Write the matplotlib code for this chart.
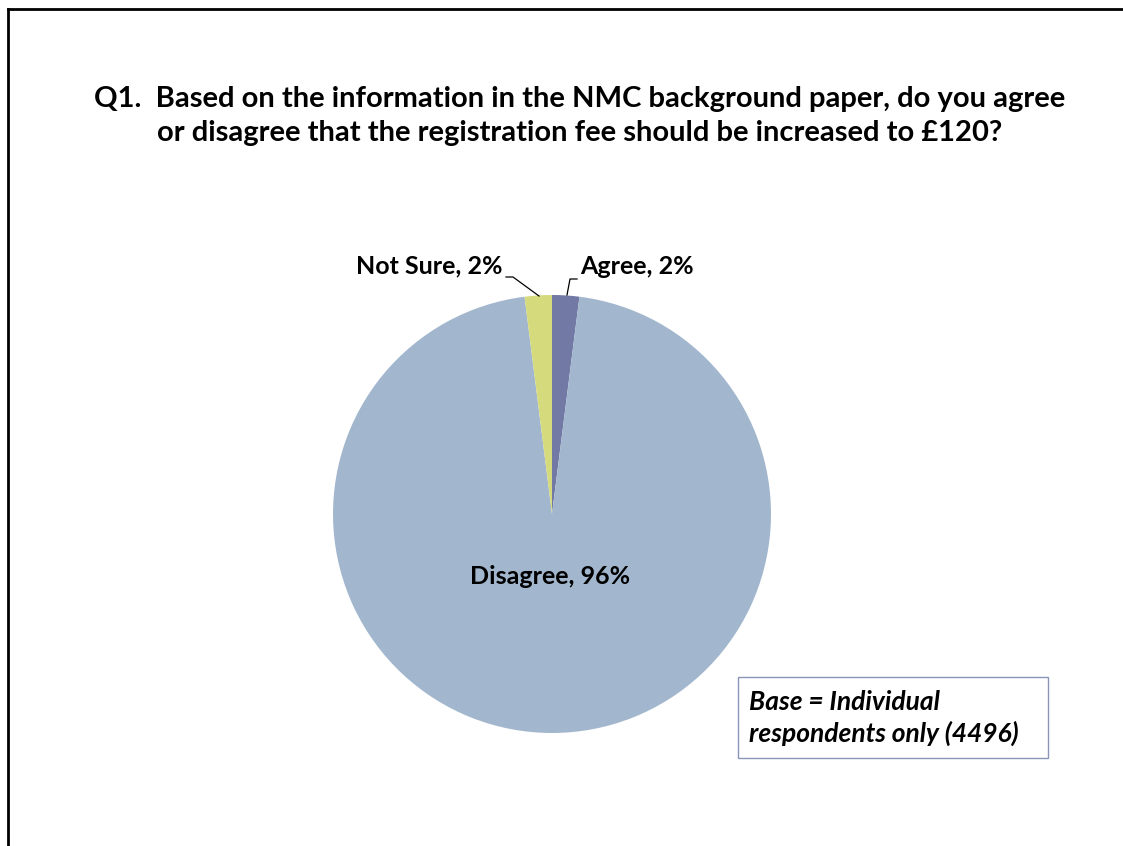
import matplotlib.pyplot as plt
from matplotlib.patches import Rectangle
from matplotlib.lines import Line2D

plt.rcParams['font.family'] = ['Lato', 'DejaVu Sans']

# Survey answers
labels = ["Agree", "Disagree", "Not Sure"]
shares = [2, 96, 2]
colors = ["#7279A5", "#A2B7CE", "#D5DA7C"]

title = ("Q1.  Based on the information in the NMC background paper, do you agree\n"
         "or disagree that the registration fee should be increased to £120?")
base_note = "Base = Individual\nrespondents only (4496)"

W, H = 1123, 846
fig = plt.figure(figsize=(W / 100, H / 100), dpi=100)

# frame lines along top and left edge
fig.add_artist(Line2D([8 / W, 1], [1 - 9 / H, 1 - 9 / H], color="black", lw=2,
                      transform=fig.transFigure))
fig.add_artist(Line2D([8 / W, 8 / W], [0, 1 - 9 / H], color="black", lw=2,
                      transform=fig.transFigure))

fig.text(580 / W, 1 - 116 / H, title, ha="center", va="center", fontsize=21,
         fontweight="bold", linespacing=1.38)

# pie
cx, cy, r = 552, 514, 219
ax = fig.add_axes([(cx - r) / W, (H - cy - r) / H, 2 * r / W, 2 * r / H])
wedges, _ = ax.pie(shares, colors=colors, startangle=90, counterclock=False,
                   radius=1, wedgeprops=dict(linewidth=0))
ax.set_xlim(-1, 1)
ax.set_ylim(-1, 1)
ax.axis("off")

def to_ax(px, py):
    return (px - cx) / r, (cy - py) / r

# slice labels
x, y = to_ax(550, 577)
ax.text(x, y, f"{labels[1]}, {shares[1]}%", ha="center", va="center",
        fontsize=18, fontweight="bold")

x, y = to_ax(580, 266)
ax.text(x, y, f"{labels[0]}, {shares[0]}%", ha="left", va="center",
        fontsize=18, fontweight="bold", clip_on=False)
pts = [to_ax(567, 295), to_ax(570, 279), to_ax(577, 279)]
ax.plot([p[0] for p in pts], [p[1] for p in pts], color="black", lw=0.9,
        clip_on=False)

x, y = to_ax(503, 266)
ax.text(x, y, f"{labels[2]}, {shares[2]}%", ha="right", va="center",
        fontsize=18, fontweight="bold", clip_on=False)
pts = [to_ax(539, 296), to_ax(513, 277), to_ax(506, 277)]
ax.plot([p[0] for p in pts], [p[1] for p in pts], color="black", lw=0.9,
        clip_on=False)

# base note box
fig.add_artist(Rectangle((738 / W, 1 - 758 / H), 310 / W, 81 / H,
                         facecolor="white", edgecolor="#8C95B8", lw=1,
                         transform=fig.transFigure))
fig.text(749 / W, 1 - 718 / H, base_note, ha="left", va="center", fontsize=19,
         fontweight="bold", fontstyle="italic", linespacing=1.36)

fig.savefig("out.png", dpi=100, facecolor="white")
